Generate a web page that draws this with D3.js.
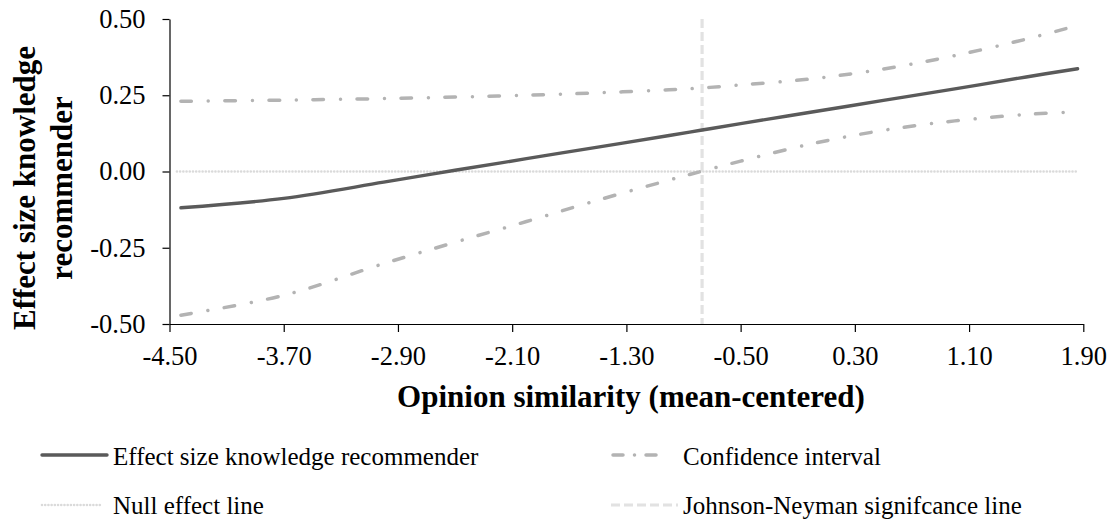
<!DOCTYPE html>
<html>
<head>
<meta charset="utf-8">
<script src="https://cdn.jsdelivr.net/npm/d3@7"></script>
<style>
  html, body { margin: 0; padding: 0; background: #fff; }
  svg { display: block; }
  text { font-family: "Liberation Serif", "Times New Roman", serif; fill: #000; }
</style>
</head>
<body>
<svg id="chart" width="1113" height="522"></svg>
<script>
// ---- data ----
const opinionSimilarity = [-4.42, -3.70, -3.0, -2.5, -2.0, -1.5, -1.0, -0.77, -0.5, 0.0, 0.5, 1.0, 1.5, 1.86];
const effectSize = [-0.119, -0.088, -0.035, 0.004, 0.042, 0.080, 0.118, 0.136, 0.157, 0.195, 0.233, 0.271, 0.310, 0.337];
const ciUpper = [0.230, 0.234, 0.239, 0.244, 0.250, 0.258, 0.268, 0.274, 0.284, 0.304, 0.336, 0.380, 0.434, 0.479];
const ciLower = [-0.471, -0.406, -0.302, -0.232, -0.164, -0.094, -0.028, 0.001, 0.034, 0.091, 0.135, 0.166, 0.187, 0.196];
const nullEffect = 0;
const johnsonNeyman = -0.77;
const xTicks = [-4.5, -3.7, -2.9, -2.1, -1.3, -0.5, 0.3, 1.1, 1.9];
const yTicks = [-0.5, -0.25, 0, 0.25, 0.5];
const xTitle = "Opinion similarity (mean-centered)";
const yTitleLines = ["Effect size knowledge", "recommender"];
const legendLabels = ["Effect size knowledge recommender", "Confidence interval", "Null effect line", "Johnson-Neyman signifcance line"];

// ---- layout ----
const svg = d3.select("#chart");
const plotLeft = 169.5, plotRight = 1083.3, plotTop = 19, plotBottom = 324;

const x = d3.scaleLinear().domain([-4.5, 1.9]).range([plotLeft, plotRight]);
const y = d3.scaleLinear().domain([-0.5, 0.5]).range([plotBottom, plotTop]);

const colEffect = "#5a5a5a";
const colCI = "#b3b3b3";
const colNull = "#dadada";
const colJN = "#e2e2e2";

const ciDash = "10.5 17 0.01 16.5";

// null effect line
svg.append("line")
  .attr("x1", x(opinionSimilarity[0]) - 4).attr("x2", x(opinionSimilarity[opinionSimilarity.length - 1]))
  .attr("y1", y(nullEffect)).attr("y2", y(nullEffect))
  .attr("stroke", colNull).attr("stroke-width", 2.6)
  .attr("stroke-dasharray", "0.01 3.2").attr("stroke-linecap", "round");

// JN line
svg.append("line")
  .attr("x1", x(johnsonNeyman)).attr("x2", x(johnsonNeyman))
  .attr("y1", y(0.5)).attr("y2", y(-0.5) + 1)
  .attr("stroke", colJN).attr("stroke-width", 3.2)
  .attr("stroke-dasharray", "9 4");

const line = d3.line().curve(d3.curveCatmullRom.alpha(0.5))
  .x((d, i) => x(opinionSimilarity[i])).y(d => y(d));

svg.append("path").datum(ciUpper).attr("d", line)
  .attr("fill", "none").attr("stroke", colCI).attr("stroke-width", 3.5)
  .attr("stroke-dasharray", ciDash).attr("stroke-linecap", "round");
svg.append("path").datum(ciLower).attr("d", line)
  .attr("fill", "none").attr("stroke", colCI).attr("stroke-width", 3.5)
  .attr("stroke-dasharray", ciDash).attr("stroke-linecap", "round");
svg.append("path").datum(effectSize).attr("d", line)
  .attr("fill", "none").attr("stroke", colEffect).attr("stroke-width", 3.4)
  .attr("stroke-linecap", "round").attr("stroke-linejoin", "round");

// axes
const fmt = d => d.toFixed(2);
const yAxis = svg.append("g").attr("transform", `translate(${plotLeft},0)`)
  .call(d3.axisLeft(y).tickValues(yTicks).tickFormat(fmt).tickSize(7).tickPadding(17).tickSizeOuter(0));
yAxis.selectAll("text").attr("font-size", 26.5).attr("dy", "0.32em")
  .style("font-family", '"Liberation Serif", serif');
const xAxis = svg.append("g").attr("transform", `translate(0,${plotBottom})`)
  .call(d3.axisBottom(x).tickValues(xTicks).tickFormat(fmt).tickSize(8).tickSizeOuter(0));
xAxis.selectAll("text").attr("font-size", 26.5).attr("y", 41).attr("dy", 0)
  .style("font-family", '"Liberation Serif", serif');
svg.selectAll(".domain, .tick line").attr("stroke", "#000").attr("stroke-width", 1.2);
svg.selectAll(".tick text").attr("fill", "#000");

// axis titles
svg.append("text").attr("x", 631).attr("y", 407).attr("text-anchor", "middle")
  .attr("font-size", 31).attr("font-weight", "bold").text(xTitle);
yTitleLines.forEach((t, i) => {
  svg.append("text").attr("transform", `translate(${35 + i * 37},188) rotate(-90)`)
    .attr("text-anchor", "middle").attr("font-size", 31).attr("font-weight", "bold").text(t);
});

// legend
const lg = svg.append("g");
const rows = [
  {x1: 42, x2: 107, y: 455, tx: 113, ty: 465, stroke: colEffect, w: 3.4, dash: null, cap: "round", label: legendLabels[0]},
  {x1: 613, x2: 666, y: 455, tx: 683, ty: 465, stroke: colCI, w: 3.5, dash: "10 11.5 0.01 11.5", cap: "round", label: legendLabels[1]},
  {x1: 42, x2: 100, y: 505, tx: 113, ty: 514, stroke: colNull, w: 2.6, dash: "0.01 3.2", cap: "round", label: legendLabels[2]},
  {x1: 611, x2: 678, y: 505, tx: 683, ty: 514, stroke: colJN, w: 3.2, dash: "9 4", cap: "butt", label: legendLabels[3]}
];
rows.forEach(r => {
  lg.append("line").attr("x1", r.x1).attr("x2", r.x2).attr("y1", r.y).attr("y2", r.y)
    .attr("stroke", r.stroke).attr("stroke-width", r.w)
    .attr("stroke-dasharray", r.dash).attr("stroke-linecap", r.cap);
  lg.append("text").attr("x", r.tx).attr("y", r.ty).attr("font-size", 25).text(r.label);
});
</script>
</body>
</html>
